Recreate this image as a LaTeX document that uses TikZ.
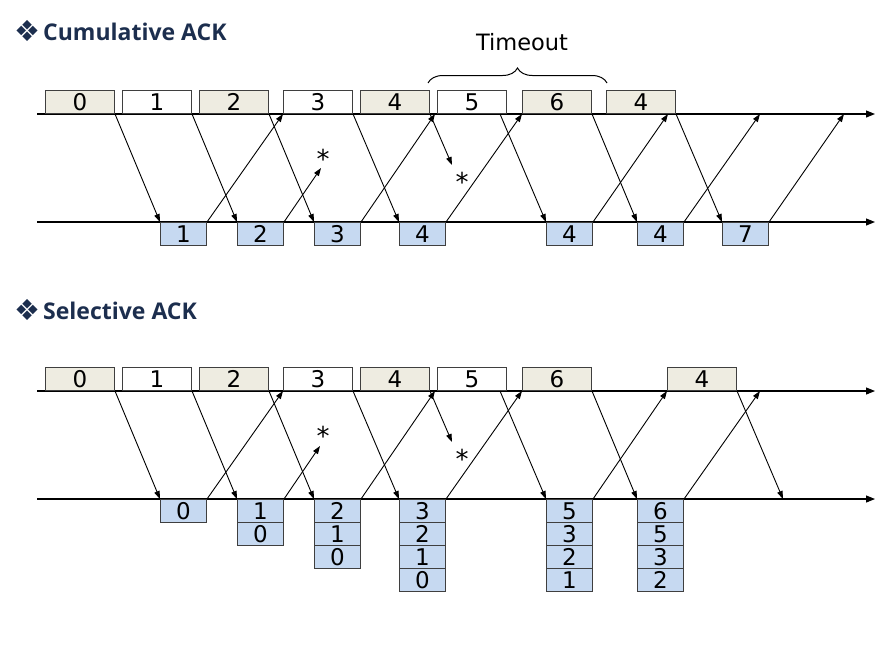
\documentclass[tikz,border=0pt]{standalone}
\usepackage{fontspec}
\setmainfont{DejaVu Sans}
\newfontfamily\titlefont{Open Sans}
\newfontfamily\symfont{DejaVu Sans}
\usetikzlibrary{arrows.meta,decorations.pathreplacing}
\definecolor{beige}{HTML}{EEECE1}
\definecolor{ackblue}{HTML}{C6D9F1}
\definecolor{navy}{HTML}{1C2E4E}
\definecolor{edgegray}{HTML}{3F3F3F}
\tikzset{
  pkt/.style={draw=edgegray, line width=1pt, minimum width=69pt, minimum height=23pt,
    inner sep=0pt, anchor=south west, font=\fontsize{23}{23}\selectfont},
  pktb/.style={pkt, fill=beige},
  pktw/.style={pkt, fill=white},
  ackbox/.style={draw=edgegray, line width=1pt, fill=ackblue, minimum width=46pt,
    minimum height=23pt, inner sep=0pt, anchor=north west, font=\fontsize{23}{23}\selectfont},
  axis/.style={line width=1.1pt, -{Triangle[length=9pt,width=7pt]}},
  msg/.style={line width=0.9pt, -{Triangle[length=8pt,width=5.5pt]}},
  lost/.style={font=\fontsize{26}{26}\selectfont, inner sep=0pt, yshift=-5pt},
  ttl/.style={anchor=base west, font=\titlefont\bfseries\fontsize{23}{23}\selectfont, text=navy, inner sep=0pt},
  dia/.style={font=\symfont\fontsize{29}{29}\selectfont, text=navy, inner sep=0pt}
}
\begin{document}
\begin{tikzpicture}[x=1pt,y=-1pt]
\useasboundingbox (0,0) rectangle (885,646);

% ---------- Cumulative ACK ----------
\node[dia] (d1) at (27,31) {❖};
\node[ttl] (t1) at (43,40) {Cumulative ACK};

\coordinate (ts) at (37,114); \coordinate (te) at (875,114);
\coordinate (tr) at (37,222); \coordinate (tre) at (875,222);
\draw[axis] (ts) -- (te);
\draw[axis] (tr) -- (tre);

\node[pktb] (a0) at (45,114) {0};
\node[pktw] (a1) at (122,114) {1};
\node[pktb] (a2) at (199,114) {2};
\node[pktw] (a3) at (283,114) {3};
\node[pktb] (a4) at (360,114) {4};
\node[pktw] (a5) at (437,114) {5};
\node[pktb] (a6) at (522,114) {6};
\node[pktb] (a7) at (606,114) {4};

\coordinate (bl) at (428,83); \coordinate (br) at (607,83);
\draw[decorate, decoration={brace, amplitude=15pt}, line width=1pt] (bl) -- (br);
\node[font=\fontsize{22.5}{22.5}\selectfont] (to) at (522,42) {Timeout};

\node[ackbox] (r1) at (160,222) {1};
\node[ackbox] (r2) at (237,222) {2};
\node[ackbox] (r3) at (314,222) {3};
\node[ackbox] (r4) at (399,222) {4};
\node[ackbox] (r5) at (546,222) {4};
\node[ackbox] (r6) at (637,222) {4};
\node[ackbox] (r7) at (722,222) {7};

\draw[msg] (a0.south east) -- (r1.north west);
\draw[msg] (a1.south east) -- (r2.north west);
\draw[msg] (a2.south east) -- (r3.north west);
\draw[msg] (a3.south east) -- (r4.north west);
\coordinate (l1) at (452,165);
\draw[msg] (a4.south east) -- (l1);
\node[lost] (s1) at (462,177) {*};
\draw[msg] ([xshift=-7pt]a5.south east) -- (r5.north west);
\draw[msg] (a6.south east) -- (r6.north west);
\draw[msg] (a7.south east) -- (r7.north west);

\draw[msg] (r1.north east) -- (a3.south west);
\coordinate (l2) at (321,168);
\draw[msg] (r2.north east) -- (l2);
\node[lost] (s2) at (323,154) {*};
\draw[msg] (r3.north east) -- ([xshift=-2pt]a5.south west);
\draw[msg] (r4.north east) -- (a6.south west);
\coordinate (k5) at (668,114);
\coordinate (k6) at (760,114);
\coordinate (k7) at (844,114);
\draw[msg] (r5.north east) -- (k5);
\draw[msg] (r6.north east) -- (k6);
\draw[msg] (r7.north east) -- (k7);

% ---------- Selective ACK ----------
\node[dia] (d2) at (27,310) {❖};
\node[ttl] (t2) at (43,319) {Selective ACK};

\coordinate (bs) at (37,391); \coordinate (be) at (875,391);
\coordinate (brs) at (37,499); \coordinate (bre) at (875,499);
\draw[axis] (bs) -- (be);
\draw[axis] (brs) -- (bre);

\node[pktb] (b0) at (45,391) {0};
\node[pktw] (b1) at (122,391) {1};
\node[pktb] (b2) at (199,391) {2};
\node[pktw] (b3) at (283,391) {3};
\node[pktb] (b4) at (360,391) {4};
\node[pktw] (b5) at (437,391) {5};
\node[pktb] (b6) at (522,391) {6};
\node[pktb] (b7) at (667,391) {4};

\node[ackbox] (c0a) at (160,499) {0};
\node[ackbox] (c1a) at (237,499) {1};
\node[ackbox] (c1b) at (237,522) {0};
\node[ackbox] (c2a) at (314,499) {2};
\node[ackbox] (c2b) at (314,522) {1};
\node[ackbox] (c2c) at (314,545) {0};
\node[ackbox] (c3a) at (399,499) {3};
\node[ackbox] (c3b) at (399,522) {2};
\node[ackbox] (c3c) at (399,545) {1};
\node[ackbox] (c3d) at (399,568) {0};
\node[ackbox] (c5a) at (546,499) {5};
\node[ackbox] (c5b) at (546,522) {3};
\node[ackbox] (c5c) at (546,545) {2};
\node[ackbox] (c5d) at (546,568) {1};
\node[ackbox] (c6a) at (637,499) {6};
\node[ackbox] (c6b) at (637,522) {5};
\node[ackbox] (c6c) at (637,545) {3};
\node[ackbox] (c6d) at (637,568) {2};

\draw[msg] (b0.south east) -- (c0a.north west);
\draw[msg] (b1.south east) -- (c1a.north west);
\draw[msg] (b2.south east) -- (c2a.north west);
\draw[msg] (b3.south east) -- (c3a.north west);
\coordinate (m1) at (452,442);
\draw[msg] (b4.south east) -- (m1);
\node[lost] (s3) at (462,454) {*};
\draw[msg] ([xshift=-7pt]b5.south east) -- (c5a.north west);
\draw[msg] (b6.south east) -- (c6a.north west);
\coordinate (m7) at (783,499);
\draw[msg] (b7.south east) -- (m7);

\draw[msg] (c0a.north east) -- (b3.south west);
\coordinate (m2) at (320,446);
\draw[msg] (c1a.north east) -- (m2);
\node[lost] (s4) at (323,431) {*};
\draw[msg] (c2a.north east) -- ([xshift=-2pt]b5.south west);
\draw[msg] (c3a.north east) -- (b6.south west);
\draw[msg] (c5a.north east) -- (b7.south west);
\coordinate (m6) at (760,391);
\draw[msg] (c6a.north east) -- (m6);
\end{tikzpicture}
\end{document}
